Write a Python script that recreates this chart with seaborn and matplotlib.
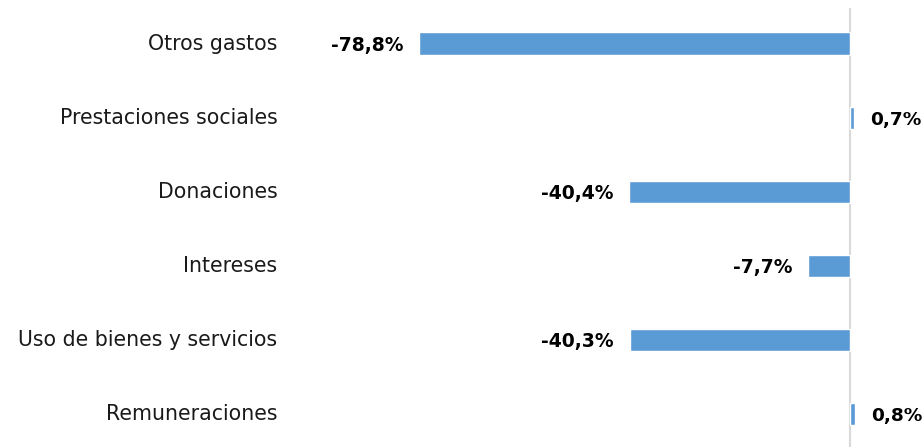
import matplotlib
matplotlib.use("Agg")
import matplotlib.pyplot as plt
import seaborn as sns
import pandas as pd

categories = ["Otros gastos", "Prestaciones sociales", "Donaciones", "Intereses",
              "Uso de bienes y servicios", "Remuneraciones"]
values = [-78.8, 0.7, -40.4, -7.7, -40.3, 0.8]
labels = ["-78,8%", "0,7%", "-40,4%", "-7,7%", "-40,3%", "0,8%"]

sns.set_theme(style="white")
plt.rcParams["font.family"] = ["DejaVu Sans"]

df = pd.DataFrame({"cat": categories, "val": values})

fig = plt.figure(figsize=(9.24, 4.47), dpi=100)
ax = fig.add_axes([290 / 924, 0, 634 / 924, 439 / 447])

sns.barplot(data=df, x="val", y="cat", orient="h", color="#5B9BD5",
            saturation=1, width=0.31, ax=ax)

ax.set_xlim(-102.4, 13.5)
ax.set_ylim(5.446, -0.486)
ax.axvline(0, color="#D9D9D9", lw=1.5, zorder=0)

for i, (v, lab) in enumerate(zip(values, labels)):
    if v < 0:
        ax.text(v - 2.9, i, lab, ha="right", va="center_baseline", fontsize=13.5,
                fontweight="bold", color="black")
    else:
        ax.text(v + 3.0, i, lab, ha="left", va="center_baseline", fontsize=13.3,
                fontweight="bold", color="black")

ax.set_xlabel("")
ax.set_ylabel("")
ax.set_xticks([])
ax.tick_params(axis="y", length=0, pad=9, labelsize=14.8, labelcolor="#1a1a1a")
for lab in ax.get_yticklabels():
    lab.set_verticalalignment("center")
for s in ax.spines.values():
    s.set_visible(False)

fig.savefig("out.png", dpi=100)
